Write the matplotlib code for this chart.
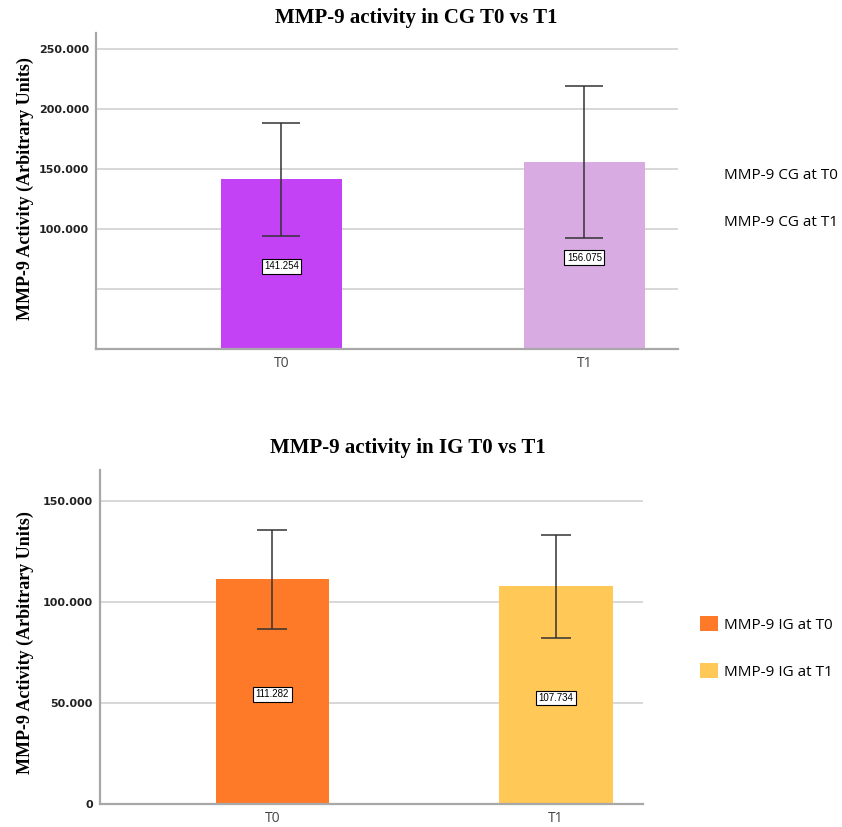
import matplotlib
matplotlib.use('Agg')
import matplotlib.pyplot as plt
from matplotlib.patches import Patch

# data (values in thousands, shown with '.' as thousands separator)
times = ['T0', 'T1']
cg_means = [141.254, 156.075]
cg_err = [47.3, 63.4]
ig_means = [111.282, 107.734]
ig_err = [24.5, 25.4]
cg_legend = ['MMP-9 CG at T0', 'MMP-9 CG at T1']
ig_legend = ['MMP-9 IG at T0', 'MMP-9 IG at T1']

cg_colors = ['#C342F5', '#D8ACE3']
ig_colors = ['#FF7A28', '#FFC857']

W, H = 842, 827
fig = plt.figure(figsize=(W / 100, H / 100), dpi=100)


def px_axes(x0, y0, x1, y1):
    return fig.add_axes([x0 / W, 1 - y1 / H, (x1 - x0) / W, (y1 - y0) / H])


def style(ax, ticks, labels, ylim, xlim):
    ax.set_ylim(*ylim)
    ax.set_xlim(*xlim)
    ax.set_yticks(ticks)
    ax.set_yticklabels(labels, fontsize=8, fontweight='bold', color='#222222')
    ax.set_xticks(range(len(times)))
    ax.set_xticklabels(times, fontsize=10, family='Open Sans', color='#444444')
    ax.tick_params(length=0, pad=5)
    ax.tick_params(axis='x', pad=5)
    ax.grid(axis='y', color='#D4D4D4', lw=1.3)
    ax.set_axisbelow(True)
    for s in ['top', 'right']:
        ax.spines[s].set_visible(False)
    for s in ['left', 'bottom']:
        ax.spines[s].set_color('#A8A8A8')
        ax.spines[s].set_linewidth(1.6)


def draw(ax, means, err, colors, capsize):
    x = range(len(means))
    ax.bar(x, means, width=0.4, color=colors, zorder=2)
    ax.errorbar(x, means, yerr=err, fmt='none', ecolor='#333333',
                elinewidth=1.1, capsize=capsize, capthick=1.1, zorder=3)
    for i, m in enumerate(means):
        ax.text(i, m * 0.487, f'{m:.3f}', ha='center', va='center',
                fontsize=7, family='Liberation Sans', zorder=4,
                bbox=dict(boxstyle='square,pad=0.25', fc='white', ec='black', lw=0.8))


# top chart: control group
ax1 = px_axes(96, 33, 678, 349)
draw(ax1, cg_means, cg_err, cg_colors, 14)
style(ax1, [50, 100, 150, 200, 250], ['', '100.000', '150.000', '200.000', '250.000'],
      (0, 263.3), (-0.612, 1.309))

# bottom chart: intervention group
ax2 = px_axes(100, 470, 643, 804)
draw(ax2, ig_means, ig_err, ig_colors, 11)
style(ax2, [0, 50, 100, 150], ['0', '50.000', '100.000', '150.000'],
      (0, 165.3), (-0.608, 1.307))

fig.text(416 / W, 1 - 18 / H, 'MMP-9 activity in CG T0 vs T1', ha='center', va='center',
         family='Liberation Serif', fontweight='bold', fontsize=15)
fig.text(408 / W, 1 - 448 / H, 'MMP-9 activity in IG T0 vs T1', ha='center', va='center',
         family='Liberation Serif', fontweight='bold', fontsize=15)
for yc in [189, 643]:
    fig.text(25 / W, 1 - yc / H, 'MMP-9 Activity (Arbitrary Units)', rotation=90,
             ha='center', va='center', family='Liberation Serif', fontweight='bold', fontsize=13)

# legends
leg_kw = dict(loc='center left', frameon=False, borderpad=0, borderaxespad=0,
              labelspacing=2.0, handlelength=1.2, handleheight=1.1, handletextpad=0.35,
              prop={'family': 'Open Sans', 'size': 11})
h1 = [Patch(facecolor='none', edgecolor='none') for _ in cg_legend]
fig.legend(h1, cg_legend, bbox_to_anchor=(700 / W, 1 - 198 / H), **leg_kw)
h2 = [Patch(facecolor=c, edgecolor='none') for c in ig_colors]
fig.legend(h2, ig_legend, bbox_to_anchor=(700 / W, 1 - 648 / H), **leg_kw)

fig.savefig('out.png', dpi=100)
